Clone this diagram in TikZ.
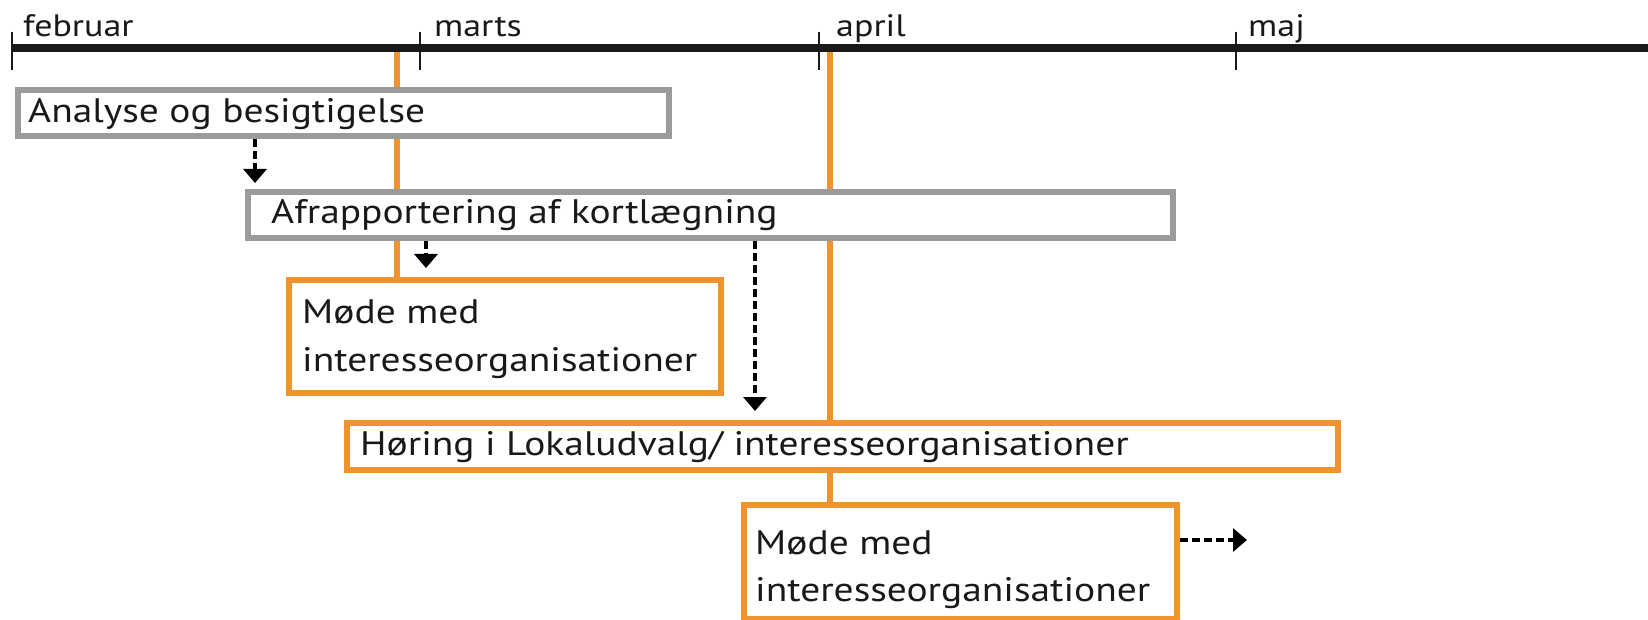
\documentclass[tikz,border=0pt]{standalone}
\usepackage{fontspec}
\setmainfont{PT Sans}[FakeStretch=1.16]
\usetikzlibrary{arrows.meta}
\definecolor{orng}{RGB}{240,146,46}
\definecolor{gbox}{RGB}{155,155,155}
\definecolor{tl}{RGB}{25,25,25}
\pgfdeclarelayer{bg}
\pgfsetlayers{bg,main}
\tikzset{
  x=1pt,y=-1pt,
  graybox/.style={draw=gbox,line width=6pt,fill=white,rectangle,inner sep=0pt,anchor=north west},
  orbox/.style={draw=orng,line width=6pt,fill=white,rectangle,inner sep=0pt,anchor=north west},
  lbl/.style={anchor=base west,inner sep=0pt,font=\fontsize{34}{40}\selectfont,text=black!90},
  month/.style={anchor=base west,inner sep=0pt,font=\fontsize{31}{36}\selectfont,text=black!90},
  orline/.style={draw=orng,line width=6pt},
  tick/.style={draw=tl,line width=1.6pt},
  darrow/.style={draw=black,line width=3.4pt,dash pattern=on 8pt off 4pt,-{Triangle[width=23pt,length=14pt]}},
}
\begin{document}
\begin{tikzpicture}
\useasboundingbox (0,0) rectangle (1648,620);
% timeline
\coordinate (tlL) at (12,48);
\coordinate (tlR) at (1648,48);
\coordinate (o1) at (397,48);
\coordinate (o2) at (830,48);
% boxes
\path (15,87) node[graybox,minimum width=651pt,minimum height=46pt] (ana) {};
\path (245,189) node[graybox,minimum width=925pt,minimum height=46pt] (afr) {};
\path (286,277) node[orbox,minimum width=432pt,minimum height=113pt] (mode1) {};
\path (344,420) node[orbox,minimum width=991pt,minimum height=47pt] (hor) {};
\path (741,502) node[orbox,minimum width=433pt,minimum height=114pt] (mode2) {};
% orange vertical lines behind boxes
\begin{pgfonlayer}{bg}
\draw[orline] (o1) -- (o1 |- mode1.north);
\draw[orline] (o2) -- (o2 |- mode2.north);
\end{pgfonlayer}
% timeline on top
\draw[draw=tl,line width=8pt] (tlL) -- (tlR);
\foreach \n/\x in {t1/12,t2/420,t3/819,t4/1236}{
  \coordinate (\n a) at (\x,32);
  \coordinate (\n b) at (\x,70);
  \draw[tick] (\n a) -- (\n b);
}
% month labels
\node[month] (feb) at (23,37) {februar};
\node[month] (mar) at (434,37) {marts};
\node[month] (apr) at (836,37) {april};
\node[month] (maj) at (1248,37) {maj};
% box texts
\node[lbl] (tana) at (28,123) {Analyse og besigtigelse};
\node[lbl] (tafr) at (271,224) {Afrapportering af kortlægning};
\node[lbl] (tm1a) at (302,323) {Møde med};
\node[lbl] (tm1b) at (302,371) {interesseorganisationer};
\node[lbl] (thor) at (360,455) {Høring i Lokaludvalg/ interesseorganisationer};
\node[lbl] (tm2a) at (755,554) {Møde med};
\node[lbl] (tm2b) at (755,601) {interesseorganisationer};
% dashed arrows
\coordinate (e1) at (255,183);
\coordinate (e2) at (426,268);
\coordinate (e3) at (755,411);
\coordinate (e4) at (1247,540);
\draw[darrow] (ana.south -| e1) -- (e1);
\draw[darrow] (afr.south -| e2) -- (e2);
\draw[darrow] (afr.south -| e3) -- (e3);
\draw[darrow] (mode2.east |- e4) -- (e4);
\end{tikzpicture}
\end{document}
